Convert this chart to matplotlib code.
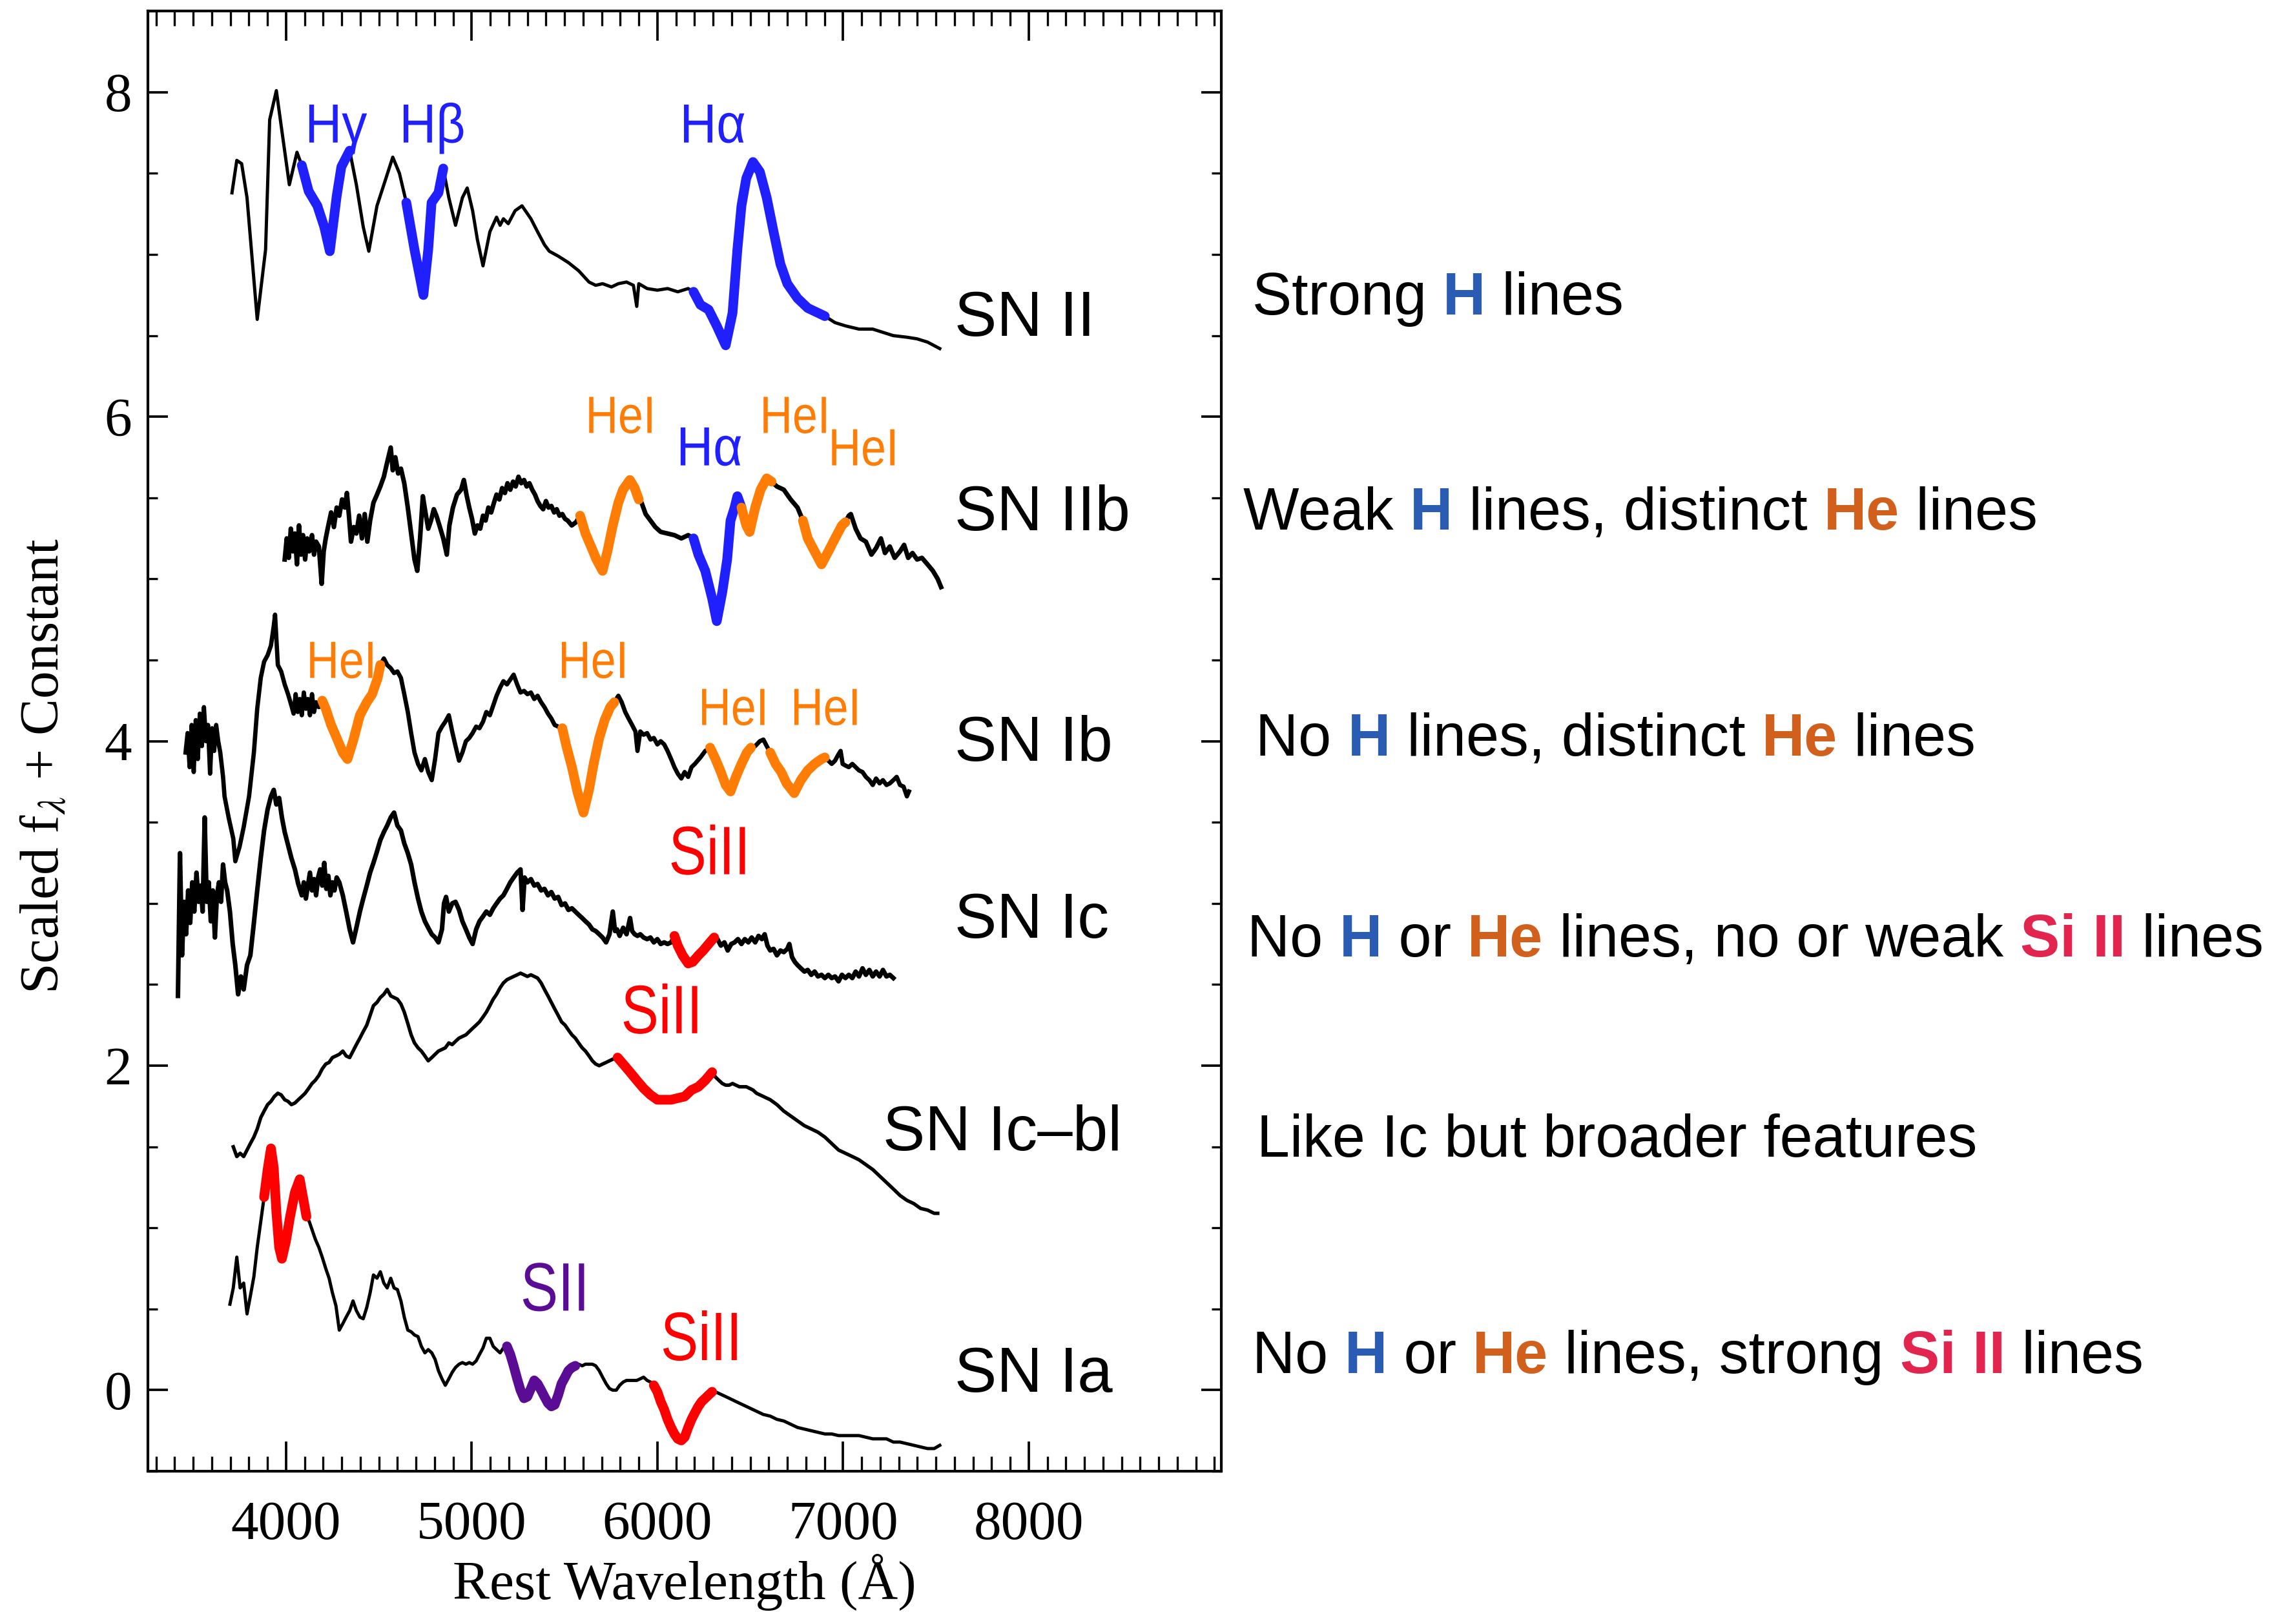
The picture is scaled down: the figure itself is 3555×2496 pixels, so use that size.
import matplotlib.pyplot as plt
import matplotlib.ticker as mticker
import matplotlib.transforms as mtransforms
import numpy as np

from matplotlib.font_manager import FontProperties
from matplotlib.patches import PathPatch
from matplotlib.textpath import TextPath


# spectra: (rest wavelength in A, scaled flux + constant)
sn_ii = [
    (3709, 7.38), (3735, 7.58), (3761, 7.56), (3790, 7.35), (3845, 6.60), (3890, 7.03),
    (3912, 7.83), (3948, 8.01), (3978, 7.76), (4018, 7.43), (4059, 7.63), (4085, 7.55),
    (4122, 7.39), (4169, 7.30), (4206, 7.17), (4236, 7.02), (4273, 7.36), (4298, 7.54),
    (4343, 7.64), (4379, 7.43), (4416, 7.17), (4446, 7.02), (4490, 7.30), (4527, 7.43),
    (4575, 7.60), (4611, 7.50), (4648, 7.32), (4692, 7.03), (4740, 6.75), (4766, 7.03),
    (4784, 7.32), (4821, 7.38), (4847, 7.53), (4877, 7.35), (4913, 7.18), (4950, 7.35),
    (4976, 7.41), (5005, 7.27), (5031, 7.09), (5061, 6.93), (5098, 7.14), (5134, 7.23),
    (5153, 7.18), (5171, 7.22), (5197, 7.19), (5234, 7.27), (5271, 7.30), (5319, 7.22),
    (5355, 7.14), (5392, 7.06), (5418, 7.02), (5466, 6.99), (5521, 6.95), (5576, 6.90),
    (5632, 6.83), (5668, 6.81), (5705, 6.82), (5753, 6.80), (5790, 6.82), (5834, 6.83),
    (5871, 6.81), (5889, 6.68), (5900, 6.82), (5945, 6.79), (6000, 6.78), (6055, 6.79),
    (6110, 6.77), (6166, 6.79), (6195, 6.77), (6232, 6.69), (6276, 6.66), (6320, 6.56),
    (6368, 6.44), (6405, 6.64), (6431, 7.03), (6453, 7.30), (6479, 7.47), (6515, 7.57),
    (6552, 7.51), (6589, 7.35), (6626, 7.14), (6663, 6.94), (6700, 6.82), (6755, 6.73),
    (6810, 6.67), (6902, 6.62), (6957, 6.58), (7013, 6.56), (7086, 6.54), (7160, 6.54),
    (7215, 6.52), (7270, 6.50), (7344, 6.49), (7399, 6.48), (7455, 6.46), (7521, 6.42),
]

sn_iib = [
    (3993, 5.12), (4004, 5.25), (4015, 5.13), (4026, 5.31), (4037, 5.17), (4048, 5.28),
    (4059, 5.09), (4070, 5.33), (4081, 5.15), (4092, 5.27), (4103, 5.12), (4114, 5.25),
    (4125, 5.17), (4140, 5.27), (4151, 5.15), (4162, 5.23), (4177, 5.20), (4192, 4.97),
    (4203, 5.17), (4214, 5.25), (4228, 5.33), (4243, 5.41), (4258, 5.32), (4273, 5.44),
    (4287, 5.39), (4302, 5.49), (4317, 5.44), (4328, 5.53), (4339, 5.39), (4350, 5.23),
    (4365, 5.32), (4379, 5.28), (4394, 5.39), (4409, 5.25), (4424, 5.40), (4438, 5.23),
    (4453, 5.36), (4471, 5.47), (4490, 5.52), (4508, 5.57), (4527, 5.63), (4545, 5.72),
    (4564, 5.81), (4575, 5.67), (4589, 5.75), (4604, 5.65), (4619, 5.68), (4637, 5.59),
    (4656, 5.44), (4674, 5.28), (4692, 5.12), (4707, 5.05), (4722, 5.25), (4737, 5.51),
    (4751, 5.41), (4766, 5.31), (4781, 5.36), (4796, 5.43), (4810, 5.39), (4829, 5.32),
    (4847, 5.25), (4866, 5.15), (4880, 5.33), (4899, 5.44), (4921, 5.52), (4943, 5.55),
    (4958, 5.61), (4972, 5.52), (4987, 5.44), (5002, 5.37), (5017, 5.28), (5031, 5.33),
    (5046, 5.31), (5061, 5.39), (5075, 5.36), (5090, 5.44), (5105, 5.41), (5120, 5.47),
    (5134, 5.52), (5149, 5.49), (5164, 5.56), (5179, 5.53), (5193, 5.59), (5208, 5.55),
    (5223, 5.60), (5237, 5.57), (5252, 5.63), (5267, 5.59), (5282, 5.61), (5296, 5.57),
    (5311, 5.59), (5326, 5.55), (5341, 5.52), (5355, 5.48), (5370, 5.45), (5385, 5.43),
    (5400, 5.48), (5414, 5.44), (5429, 5.45), (5444, 5.41), (5458, 5.43), (5473, 5.39),
    (5488, 5.40), (5503, 5.37), (5517, 5.36), (5539, 5.33), (5562, 5.35), (5584, 5.39),
    (5613, 5.28), (5643, 5.20), (5672, 5.12), (5705, 5.05), (5731, 5.17), (5760, 5.33),
    (5790, 5.47), (5815, 5.55), (5852, 5.61), (5878, 5.56), (5900, 5.49), (5915, 5.47),
    (5937, 5.40), (5963, 5.36), (5989, 5.32), (6018, 5.29), (6055, 5.28), (6092, 5.27),
    (6129, 5.25), (6166, 5.27), (6195, 5.25), (6221, 5.15), (6258, 5.05), (6295, 4.88),
    (6320, 4.74), (6350, 4.92), (6376, 5.12), (6394, 5.36), (6416, 5.44), (6431, 5.51),
    (6453, 5.44), (6479, 5.33), (6497, 5.29), (6527, 5.44), (6556, 5.55), (6589, 5.62),
    (6615, 5.60), (6644, 5.57), (6681, 5.55), (6718, 5.49), (6755, 5.44), (6784, 5.36),
    (6810, 5.25), (6847, 5.17), (6884, 5.09), (6921, 5.17), (6957, 5.25), (6994, 5.33),
    (7013, 5.35), (7031, 5.39), (7042, 5.40), (7068, 5.31), (7094, 5.25), (7123, 5.23),
    (7153, 5.15), (7178, 5.19), (7204, 5.25), (7226, 5.16), (7252, 5.20), (7278, 5.13),
    (7307, 5.17), (7329, 5.21), (7351, 5.13), (7374, 5.16), (7399, 5.12), (7425, 5.13),
    (7455, 5.09), (7484, 5.05), (7510, 5.00), (7528, 4.95),
]

sn_ib = [
    (3459, 3.93), (3470, 4.05), (3481, 3.84), (3492, 4.10), (3503, 3.81), (3514, 4.13),
    (3525, 3.89), (3536, 4.17), (3547, 3.97), (3558, 4.21), (3569, 4.00), (3580, 4.10),
    (3591, 3.80), (3602, 4.08), (3613, 3.94), (3624, 4.10), (3635, 4.00), (3646, 3.93),
    (3661, 3.78), (3669, 3.66), (3691, 3.53), (3716, 3.40), (3727, 3.26), (3750, 3.35),
    (3772, 3.47), (3801, 3.66), (3827, 3.93), (3845, 4.20), (3864, 4.39), (3882, 4.49),
    (3901, 4.53), (3919, 4.59), (3934, 4.71), (3941, 4.78), (3956, 4.47), (3974, 4.43),
    (3993, 4.35), (4011, 4.29), (4029, 4.22), (4041, 4.17), (4052, 4.29), (4063, 4.18),
    (4074, 4.26), (4085, 4.16), (4096, 4.30), (4107, 4.20), (4118, 4.26), (4129, 4.16),
    (4140, 4.29), (4151, 4.18), (4162, 4.24), (4177, 4.21), (4195, 4.25), (4214, 4.20),
    (4243, 4.10), (4273, 4.02), (4306, 3.93), (4331, 3.89), (4361, 4.00), (4398, 4.16),
    (4435, 4.24), (4464, 4.29), (4494, 4.39), (4508, 4.47), (4527, 4.51), (4545, 4.47),
    (4564, 4.45), (4582, 4.42), (4600, 4.43), (4619, 4.39), (4637, 4.29), (4656, 4.18),
    (4674, 4.05), (4692, 3.93), (4711, 3.86), (4729, 3.82), (4748, 3.89), (4766, 3.81),
    (4785, 3.76), (4803, 3.89), (4821, 4.05), (4840, 4.09), (4858, 4.12), (4877, 4.16),
    (4895, 4.06), (4913, 3.97), (4932, 3.88), (4950, 3.93), (4969, 4.00), (4987, 4.02),
    (5005, 4.05), (5024, 4.09), (5042, 4.08), (5061, 4.12), (5079, 4.18), (5098, 4.16),
    (5116, 4.22), (5134, 4.28), (5153, 4.33), (5171, 4.37), (5190, 4.35), (5208, 4.38),
    (5226, 4.41), (5245, 4.35), (5263, 4.30), (5282, 4.31), (5300, 4.29), (5319, 4.30),
    (5337, 4.26), (5355, 4.28), (5374, 4.24), (5392, 4.21), (5411, 4.17), (5429, 4.14),
    (5447, 4.10), (5466, 4.09), (5488, 4.08), (5510, 3.97), (5540, 3.84), (5569, 3.69),
    (5602, 3.56), (5632, 3.70), (5657, 3.86), (5687, 4.02), (5716, 4.13), (5746, 4.21),
    (5768, 4.24), (5790, 4.28), (5808, 4.24), (5827, 4.18), (5845, 4.14), (5864, 4.10),
    (5882, 4.06), (5893, 3.94), (5908, 4.06), (5926, 4.04), (5945, 4.05), (5963, 4.01),
    (5981, 4.02), (6000, 3.98), (6018, 4.00), (6037, 3.98), (6055, 3.94), (6074, 3.89),
    (6092, 3.84), (6110, 3.80), (6129, 3.77), (6147, 3.81), (6166, 3.78), (6184, 3.84),
    (6202, 3.86), (6232, 3.90), (6258, 3.94), (6284, 3.96), (6313, 3.89), (6342, 3.81),
    (6368, 3.73), (6394, 3.69), (6423, 3.78), (6453, 3.86), (6482, 3.93), (6504, 3.96),
    (6527, 3.97), (6552, 4.00), (6571, 4.01), (6589, 3.97), (6608, 3.93), (6637, 3.86),
    (6667, 3.81), (6696, 3.74), (6737, 3.68), (6773, 3.76), (6810, 3.82), (6847, 3.86),
    (6884, 3.89), (6902, 3.90), (6921, 3.88), (6939, 3.86), (6957, 3.88), (6976, 3.92),
    (6987, 3.94), (6998, 3.86), (7013, 3.85), (7031, 3.84), (7050, 3.86), (7068, 3.84),
    (7086, 3.82), (7105, 3.81), (7123, 3.78), (7142, 3.76), (7160, 3.73), (7178, 3.77),
    (7197, 3.74), (7215, 3.76), (7234, 3.73), (7252, 3.74), (7271, 3.76), (7289, 3.78),
    (7307, 3.73), (7326, 3.72), (7344, 3.66), (7355, 3.69),
]

sn_ic = [
    (3418, 2.43), (3429, 3.31), (3440, 2.68), (3451, 3.01), (3462, 2.81), (3473, 3.08),
    (3484, 2.88), (3495, 3.13), (3506, 2.95), (3518, 3.19), (3529, 3.01), (3540, 3.11),
    (3551, 2.95), (3562, 3.53), (3573, 3.01), (3584, 3.13), (3595, 2.89), (3606, 3.08),
    (3617, 2.79), (3628, 3.05), (3639, 3.13), (3650, 3.01), (3661, 3.24), (3672, 3.13),
    (3683, 3.08), (3698, 2.95), (3713, 2.75), (3727, 2.62), (3742, 2.44), (3757, 2.55),
    (3772, 2.47), (3790, 2.62), (3808, 2.68), (3827, 2.88), (3845, 3.08), (3864, 3.28),
    (3882, 3.45), (3901, 3.58), (3919, 3.66), (3934, 3.70), (3948, 3.61), (3963, 3.65),
    (3978, 3.53), (3993, 3.44), (4011, 3.36), (4029, 3.28), (4048, 3.21), (4066, 3.12),
    (4085, 3.05), (4096, 3.13), (4107, 3.03), (4118, 3.11), (4129, 3.19), (4140, 3.08),
    (4151, 3.15), (4162, 3.05), (4173, 3.16), (4184, 3.21), (4195, 3.11), (4206, 3.25),
    (4217, 3.09), (4228, 3.17), (4239, 3.05), (4250, 3.13), (4261, 3.08), (4273, 3.16),
    (4287, 3.13), (4306, 3.05), (4324, 2.95), (4343, 2.84), (4361, 2.76), (4379, 2.85),
    (4398, 2.95), (4416, 3.03), (4435, 3.11), (4453, 3.19), (4471, 3.25), (4490, 3.32),
    (4508, 3.39), (4527, 3.44), (4545, 3.48), (4564, 3.53), (4582, 3.56), (4600, 3.48),
    (4619, 3.45), (4637, 3.37), (4656, 3.31), (4674, 3.24), (4692, 3.13), (4711, 3.03),
    (4729, 2.95), (4748, 2.89), (4766, 2.85), (4785, 2.81), (4803, 2.79), (4821, 2.76),
    (4840, 2.84), (4851, 3.00), (4862, 3.04), (4877, 2.95), (4895, 3.00), (4913, 3.01),
    (4932, 2.96), (4950, 2.89), (4969, 2.84), (4987, 2.79), (5005, 2.75), (5024, 2.84),
    (5042, 2.89), (5061, 2.92), (5079, 2.95), (5098, 2.93), (5116, 2.97), (5134, 3.00),
    (5153, 3.03), (5171, 3.05), (5190, 3.09), (5208, 3.13), (5226, 3.16), (5245, 3.19),
    (5263, 3.21), (5274, 2.96), (5285, 3.16), (5300, 3.13), (5319, 3.15), (5337, 3.11),
    (5355, 3.12), (5374, 3.08), (5392, 3.09), (5411, 3.05), (5429, 3.07), (5447, 3.03),
    (5466, 3.04), (5484, 2.99), (5503, 3.00), (5521, 2.96), (5540, 2.97), (5558, 2.95),
    (5576, 2.93), (5595, 2.91), (5613, 2.89), (5632, 2.87), (5650, 2.84), (5668, 2.83),
    (5687, 2.81), (5705, 2.79), (5724, 2.76), (5742, 2.81), (5760, 2.95), (5772, 2.83),
    (5783, 2.84), (5797, 2.80), (5816, 2.85), (5834, 2.81), (5853, 2.91), (5864, 2.83),
    (5878, 2.81), (5893, 2.80), (5908, 2.81), (5926, 2.79), (5945, 2.78), (5963, 2.79),
    (5981, 2.76), (6000, 2.78), (6018, 2.75), (6037, 2.76), (6055, 2.75), (6074, 2.76),
    (6092, 2.80), (6110, 2.74), (6136, 2.68), (6166, 2.63), (6191, 2.64), (6221, 2.68),
    (6247, 2.71), (6276, 2.75), (6306, 2.79), (6324, 2.78), (6342, 2.74), (6361, 2.76),
    (6379, 2.71), (6398, 2.75), (6416, 2.76), (6434, 2.78), (6453, 2.75), (6471, 2.78),
    (6490, 2.76), (6508, 2.79), (6527, 2.76), (6545, 2.80), (6563, 2.78), (6578, 2.81),
    (6593, 2.74), (6608, 2.71), (6626, 2.72), (6644, 2.68), (6663, 2.71), (6681, 2.70),
    (6700, 2.72), (6711, 2.75), (6725, 2.67), (6740, 2.64), (6755, 2.62), (6773, 2.60),
    (6792, 2.58), (6810, 2.59), (6829, 2.56), (6847, 2.58), (6865, 2.55), (6884, 2.56),
    (6902, 2.54), (6921, 2.56), (6939, 2.54), (6957, 2.55), (6976, 2.52), (6994, 2.56),
    (7013, 2.54), (7031, 2.56), (7050, 2.54), (7068, 2.58), (7086, 2.55), (7105, 2.60),
    (7123, 2.56), (7142, 2.59), (7160, 2.55), (7178, 2.58), (7197, 2.55), (7215, 2.59),
    (7234, 2.55), (7252, 2.56), (7271, 2.54),
]

sn_icbl = [
    (3716, 1.50), (3735, 1.44), (3753, 1.46), (3772, 1.44), (3790, 1.48), (3808, 1.52),
    (3827, 1.56), (3845, 1.61), (3864, 1.68), (3882, 1.72), (3901, 1.76), (3919, 1.78),
    (3937, 1.81), (3956, 1.83), (3974, 1.82), (3993, 1.79), (4011, 1.78), (4029, 1.76),
    (4048, 1.77), (4066, 1.79), (4085, 1.81), (4103, 1.83), (4122, 1.86), (4140, 1.89),
    (4158, 1.91), (4177, 1.94), (4195, 1.98), (4214, 2.01), (4232, 2.02), (4250, 2.05),
    (4269, 2.06), (4287, 2.07), (4306, 2.09), (4324, 2.06), (4343, 2.05), (4361, 2.09),
    (4379, 2.13), (4398, 2.17), (4416, 2.21), (4435, 2.25), (4453, 2.31), (4471, 2.37),
    (4490, 2.39), (4508, 2.42), (4527, 2.44), (4545, 2.47), (4564, 2.43), (4582, 2.42),
    (4600, 2.41), (4619, 2.38), (4637, 2.33), (4656, 2.26), (4674, 2.19), (4692, 2.14),
    (4711, 2.11), (4729, 2.09), (4748, 2.06), (4766, 2.03), (4785, 2.05), (4803, 2.07),
    (4821, 2.09), (4840, 2.10), (4858, 2.11), (4877, 2.14), (4895, 2.13), (4913, 2.15),
    (4932, 2.17), (4950, 2.18), (4969, 2.19), (4987, 2.21), (5005, 2.23), (5024, 2.25),
    (5042, 2.27), (5061, 2.30), (5079, 2.33), (5098, 2.37), (5116, 2.41), (5134, 2.44),
    (5153, 2.48), (5171, 2.51), (5190, 2.53), (5208, 2.54), (5226, 2.55), (5245, 2.56),
    (5263, 2.57), (5282, 2.56), (5300, 2.55), (5319, 2.56), (5337, 2.55), (5355, 2.54),
    (5374, 2.51), (5392, 2.47), (5411, 2.43), (5429, 2.39), (5447, 2.35), (5466, 2.31),
    (5484, 2.27), (5503, 2.25), (5521, 2.22), (5540, 2.19), (5558, 2.17), (5576, 2.14),
    (5595, 2.11), (5613, 2.09), (5632, 2.06), (5650, 2.03), (5668, 2.01), (5687, 2.00),
    (5705, 2.01), (5724, 2.02), (5742, 2.03), (5760, 2.04), (5786, 2.05), (5816, 2.01),
    (5853, 1.96), (5889, 1.91), (5926, 1.86), (5963, 1.82), (6000, 1.79), (6037, 1.79),
    (6074, 1.79), (6110, 1.80), (6147, 1.81), (6184, 1.85), (6221, 1.87), (6258, 1.91),
    (6295, 1.96), (6313, 1.93), (6331, 1.91), (6350, 1.89), (6368, 1.88), (6387, 1.88),
    (6405, 1.89), (6423, 1.88), (6442, 1.87), (6460, 1.87), (6479, 1.87), (6497, 1.86),
    (6515, 1.85), (6534, 1.83), (6571, 1.81), (6608, 1.79), (6644, 1.76), (6681, 1.72),
    (6718, 1.69), (6755, 1.66), (6792, 1.63), (6829, 1.61), (6865, 1.59), (6902, 1.56),
    (6939, 1.52), (6976, 1.48), (7013, 1.46), (7050, 1.44), (7086, 1.42), (7123, 1.39),
    (7160, 1.36), (7197, 1.32), (7234, 1.28), (7271, 1.24), (7307, 1.20), (7344, 1.17),
    (7381, 1.15), (7418, 1.12), (7455, 1.11), (7491, 1.09), (7510, 1.09),
]

sn_ia = [
    (3698, 0.53), (3716, 0.63), (3735, 0.82), (3753, 0.63), (3772, 0.66), (3790, 0.47),
    (3808, 0.58), (3827, 0.70), (3845, 0.88), (3864, 1.04), (3882, 1.19), (3901, 1.36),
    (3919, 1.49), (3934, 1.37), (3948, 1.10), (3963, 0.88), (3978, 0.81), (4000, 0.92),
    (4022, 1.07), (4048, 1.22), (4074, 1.30), (4096, 1.16), (4110, 1.07), (4125, 1.04),
    (4140, 0.99), (4158, 0.93), (4177, 0.88), (4195, 0.82), (4214, 0.75), (4232, 0.69),
    (4250, 0.60), (4269, 0.52), (4287, 0.37), (4306, 0.41), (4324, 0.45), (4343, 0.49),
    (4361, 0.55), (4379, 0.49), (4398, 0.45), (4416, 0.44), (4435, 0.51), (4453, 0.60),
    (4471, 0.71), (4490, 0.69), (4508, 0.73), (4527, 0.66), (4545, 0.63), (4564, 0.69),
    (4582, 0.63), (4600, 0.62), (4619, 0.55), (4637, 0.45), (4656, 0.37), (4674, 0.36),
    (4692, 0.34), (4711, 0.33), (4729, 0.27), (4748, 0.23), (4766, 0.25), (4785, 0.23),
    (4803, 0.19), (4821, 0.12), (4840, 0.07), (4858, 0.03), (4877, 0.07), (4895, 0.11),
    (4913, 0.14), (4932, 0.16), (4950, 0.17), (4969, 0.16), (4987, 0.17), (5005, 0.16),
    (5024, 0.18), (5042, 0.22), (5061, 0.26), (5079, 0.32), (5098, 0.32), (5116, 0.27),
    (5134, 0.25), (5153, 0.23), (5171, 0.26), (5190, 0.27), (5208, 0.22), (5226, 0.15),
    (5245, 0.07), (5263, 0.00), (5282, -0.05), (5300, -0.04), (5319, 0.01), (5337, 0.06),
    (5355, 0.04), (5374, 0.00), (5392, -0.04), (5411, -0.08), (5429, -0.10), (5447, -0.09),
    (5466, -0.03), (5484, 0.04), (5503, 0.08), (5521, 0.12), (5540, 0.14), (5558, 0.15),
    (5576, 0.16), (5595, 0.15), (5613, 0.16), (5632, 0.16), (5650, 0.16), (5668, 0.15),
    (5687, 0.12), (5705, 0.08), (5724, 0.04), (5742, 0.01), (5760, 0.00), (5779, 0.00),
    (5797, 0.03), (5816, 0.05), (5834, 0.06), (5853, 0.06), (5871, 0.06), (5889, 0.06),
    (5908, 0.07), (5926, 0.08), (5945, 0.06), (5963, 0.05), (5981, 0.03), (6000, -0.01),
    (6018, -0.07), (6037, -0.12), (6055, -0.18), (6074, -0.23), (6092, -0.27), (6110, -0.30),
    (6129, -0.31), (6147, -0.29), (6166, -0.23), (6184, -0.18), (6202, -0.14), (6221, -0.10),
    (6239, -0.07), (6258, -0.05), (6276, -0.03), (6295, -0.01), (6313, -0.01), (6350, -0.03),
    (6387, -0.05), (6423, -0.07), (6460, -0.09), (6497, -0.11), (6534, -0.13), (6571, -0.15),
    (6608, -0.16), (6644, -0.18), (6681, -0.19), (6718, -0.21), (6755, -0.23), (6792, -0.24),
    (6829, -0.25), (6865, -0.26), (6902, -0.27), (6939, -0.27), (6976, -0.28), (7013, -0.28),
    (7050, -0.28), (7086, -0.28), (7123, -0.29), (7160, -0.30), (7197, -0.30), (7234, -0.30),
    (7271, -0.32), (7307, -0.32), (7344, -0.33), (7381, -0.34), (7418, -0.35), (7455, -0.36),
    (7491, -0.36), (7521, -0.34),
]

# highlighted line features: (start A, end A, ion)
sn_ii_lines = [(4085, 4343, "H"), (4648, 4847, "H"), (6195, 6902, "H")]
sn_iib_lines = [(5584, 5900, "He"), (6195, 6453, "H"), (6453, 6615, "He"), (6784, 7013, "He")]
sn_ib_lines = [(4195, 4508, "He"), (5488, 5768, "He"), (6284, 6504, "He"), (6608, 6902, "He")]
sn_ic_lines = [(6092, 6306, "Si")]
sn_icbl_lines = [(5786, 6295, "Si")]
sn_ia_lines = [(3882, 4110, "Si"), (5190, 5558, "S"), (5981, 6295, "Si")]

sn_types = ["SN II", "SN IIb", "SN Ib", "SN Ic", "SN Ic\u2013bl", "SN Ia"]

notes = [
    [("Strong ", None), ("H", "H"), (" lines", None)],
    [("Weak ", None), ("H", "H"), (" lines, distinct ", None), ("He", "He"), (" lines", None)],
    [("No ", None), ("H", "H"), (" lines, distinct ", None), ("He", "He"), (" lines", None)],
    [("No ", None), ("H", "H"), (" or ", None), ("He", "He"),
     (" lines, no or weak ", None), ("Si II", "Si"), (" lines", None)],
    [("Like Ic but broader features", None)],
    [("No ", None), ("H", "H"), (" or ", None), ("He", "He"),
     (" lines, strong ", None), ("Si II", "Si"), (" lines", None)],
]

ion_colors = {"H": "#2020ff", "He": "#ff7d05", "Si": "#ff0000", "S": "#5a0d94"}
note_colors = {"H": "#2b5cb3", "He": "#d0601c", "Si": "#e2254f"}

plt.rcParams["font.family"] = ["Liberation Serif", "DejaVu Serif"]
plt.rcParams["mathtext.fontset"] = "stix"

fig = plt.figure(figsize=(11.85, 8.32), dpi=300)
ax = fig.add_axes([0.0644, 0.0873, 0.4675, 0.9058])
ax.set_xlim(3256, 9037)
ax.set_ylim(-0.5, 8.5)

spectra = [
    (sn_ii, sn_ii_lines, 1.2), (sn_iib, sn_iib_lines, 1.7), (sn_ib, sn_ib_lines, 1.6),
    (sn_ic, sn_ic_lines, 1.7), (sn_icbl, sn_icbl_lines, 1.3), (sn_ia, sn_ia_lines, 1.2),
]
for pts, marks, lw in spectra:
    w, f = np.array(pts, dtype=float).T
    ax.plot(w, f, color="black", lw=lw, solid_joinstyle="round", zorder=2)
    for lo, hi, ion in marks:
        sel = (w >= lo) & (w <= hi)
        ax.plot(w[sel], f[sel], color=ion_colors[ion], lw=3.6,
                solid_capstyle="round", solid_joinstyle="round", zorder=3)

# type labels next to each spectrum
type_pos = [(7602, 6.50), (7602, 5.30), (7602, 3.88), (7602, 2.79), (7215, 1.48), (7602, -0.01)]
for name, (x, y) in zip(sn_types, type_pos):
    ax.text(x, y, name, family=["Liberation Sans", "DejaVu Sans"], fontsize=23.5,
            ha="left", va="baseline")


def narrow_label(x, y, s, color, size, squeeze):
    # condensed sans label: glyph outlines squeezed horizontally
    path = TextPath((0, 0), s, size=size, prop=FontProperties(family="Liberation Sans"))
    k = fig.dpi / 72.0
    trans = mtransforms.Affine2D().scale(squeeze * k, k) + \
        mtransforms.ScaledTranslation(x, y, ax.transData)
    ax.add_patch(PathPatch(path, facecolor=color, edgecolor="none", lw=0,
                           transform=trans, clip_on=False, zorder=4))


# line identifications
line_labels = [
    ("H\u03b3", 4103, 7.69, "H"), ("H\u03b2", 4611, 7.69, "H"), ("H\u03b1", 6121, 7.69, "H"),
    ("HeI", 5613, 5.90, "He"), ("H\u03b1", 6103, 5.70, "H"),
    ("HeI", 6552, 5.90, "He"), ("HeI", 6921, 5.70, "He"),
    ("HeI", 4110, 4.39, "He"), ("HeI", 5466, 4.39, "He"),
    ("HeI", 6221, 4.10, "He"), ("HeI", 6718, 4.10, "He"),
    ("SiII", 6062, 3.18, "Si"), ("SiII", 5805, 2.20, "Si"),
    ("SII", 5263, 0.49, "S"), ("SiII", 6018, 0.185, "Si"),
]
label_style = {"H": (20.5, 0.92), "He": (19.5, 0.86), "Si": (25.5, 0.82), "S": (25.5, 0.82)}
for s, x, y, ion in line_labels:
    size, squeeze = label_style[ion]
    narrow_label(x, y, s, ion_colors[ion], size, squeeze)

ax.xaxis.set_major_locator(mticker.FixedLocator([4000, 5000, 6000, 7000, 8000]))
ax.xaxis.set_minor_locator(mticker.MultipleLocator(100))
ax.yaxis.set_major_locator(mticker.FixedLocator([0, 2, 4, 6, 8]))
ax.yaxis.set_minor_locator(mticker.MultipleLocator(0.5))
ax.tick_params(axis="x", which="major", direction="in", length=11, width=0.9,
               top=True, labelsize=20.5, pad=11)
ax.tick_params(axis="x", which="minor", direction="in", length=5.5, width=0.8, top=True)
ax.tick_params(axis="y", which="major", direction="in", length=7.5, width=0.9,
               right=True, labelsize=20.5, pad=6)
ax.tick_params(axis="y", which="minor", direction="in", length=3.6, width=0.8, right=True)
for sp in ax.spines.values():
    sp.set_linewidth(1.0)

fig.text(0.0197, 0.5248, r"Scaled f$_{\lambda}$ + Constant", rotation=90,
         ha="center", va="center", fontsize=20.5)
fig.text(0.298, 0.0184, "Rest Wavelength (\u00c5)", ha="center", va="center", fontsize=20.5)

# right-hand notes, coloured words in bold
note_pos = [(0.5454, 0.8049), (0.5415, 0.6715), (0.5468, 0.5312),
            (0.5432, 0.4067), (0.5474, 0.2825), (0.5454, 0.1482)]
for parts, (x, y) in zip(notes, note_pos):
    t = None
    for s, key in parts:
        kw = dict(fontsize=22, family=["Liberation Sans", "DejaVu Sans"],
                  color=note_colors.get(key, "black"),
                  fontweight="bold" if key else "normal")
        if t is None:
            t = fig.text(x, y, s, ha="left", va="baseline", **kw)
        else:
            t = ax.annotate(s, xy=(1, 0), xycoords=t, ha="left", va="bottom",
                            annotation_clip=False, **kw)

fig.savefig("out.png", dpi=300)
plt.close("all")
